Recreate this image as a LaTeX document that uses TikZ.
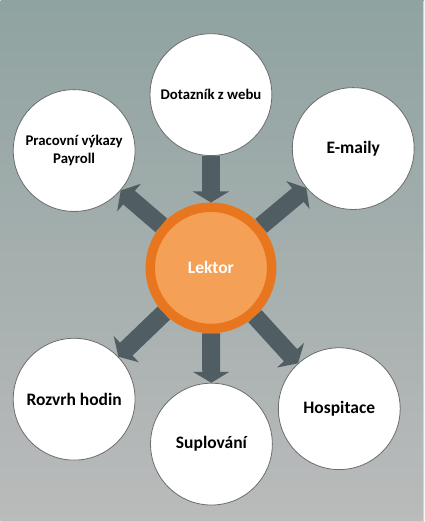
\documentclass[tikz,border=0pt]{standalone}
\usepackage{fontspec}
\setmainfont{Carlito}
\usepackage{tikz}
\usetikzlibrary{shapes, positioning}
\usetikzlibrary{calc}
\usetikzlibrary{arrows.meta}
\definecolor{bgtop}{HTML}{8FA3A1}
\definecolor{bgbottom}{HTML}{BABBBB}
\definecolor{edgegray}{HTML}{D2D4D4}
\definecolor{arrowgray}{HTML}{505E64}
\definecolor{ringorange}{HTML}{E8761E}
\definecolor{coreorange}{HTML}{F5A057}
\tikzset{
	zdroj/.style={circle, draw=gray!85!black, line width=0.8pt, fill=white, minimum size=122pt, inner sep=0pt, align=center, font=\bfseries\fontsize{17.5}{21}\selectfont},
	malyzdroj/.style={zdroj, font=\bfseries\fontsize{14.8}{18}\selectfont},
	tok/.style={arrowgray, line width=18pt, -{Triangle[width=36pt, length=11pt]}}
}

\begin{document}
\begin{tikzpicture}[x=1pt, y=-1pt]
		\shade[top color=bgtop, bottom color=bgbottom] (0,0) rectangle (424,522);
		\draw[edgegray, line width=1.5pt] (423.25,0) -- (423.25,521.25) -- (0,521.25);
		\useasboundingbox (0,0) rectangle (424,522);
		\node[circle, draw=ringorange, line width=9.5pt, fill=coreorange, minimum size=121.5pt, inner sep=0pt, text=white, font=\bfseries\fontsize{17.5}{21}\selectfont] (lektor) at (210.5,267.5) {Lektor};
		\node[malyzdroj] (dotaznik) at (210.5,94) {Dotazník z webu};
		\node[malyzdroj] (vykazy) at (73.5,150) {Pracovní výkazy\\Payroll};
		\node[zdroj] (emaily) at (353,148) {E-maily};
		\node[zdroj] (rozvrh) at (73.5,399) {Rozvrh hodin};
		\node[zdroj] (suplovani) at (211,444) {Suplování};
		\node[zdroj] (hospitace) at (339,408.5) {Hospitace};
		\draw[tok] (dotaznik) -- (lektor);
		\foreach \cil in {vykazy, emaily, rozvrh, suplovani, hospitace} {
			\draw[tok] (lektor) -- (\cil);
		}
	\end{tikzpicture}
\end{document}
